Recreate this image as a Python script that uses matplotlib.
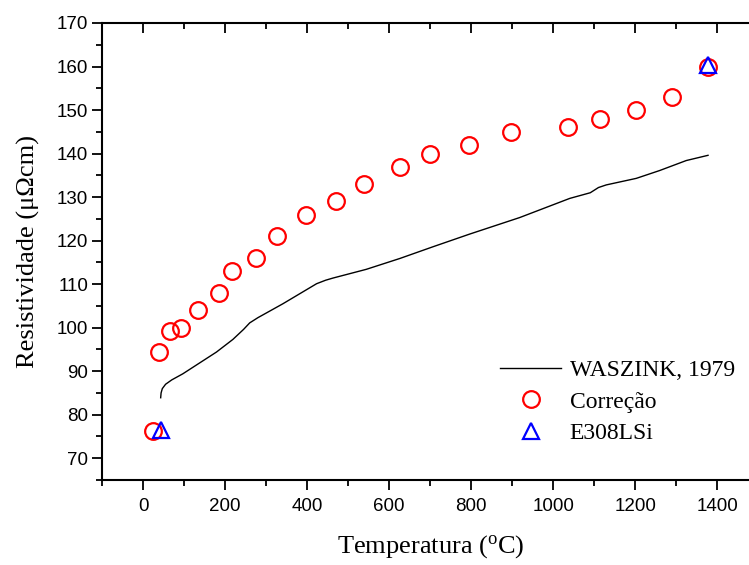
import matplotlib
matplotlib.use("Agg")
import matplotlib.pyplot as plt
from matplotlib.ticker import MultipleLocator

# WASZINK, 1979 curve
waszink_T = [43, 44, 47, 55, 70, 97, 138, 179, 219, 245, 260, 280, 301, 341, 382, 423, 445, 463,
             544, 626, 707, 796, 918, 1040, 1090, 1110, 1129, 1202, 1259, 1324, 1377]
waszink_R = [83.9, 85.0, 86.0, 87.0, 88.0, 89.4, 91.9, 94.4, 97.3, 99.6, 101.1, 102.3, 103.4, 105.5,
             107.8, 110.1, 110.9, 111.4, 113.4, 115.9, 118.6, 121.5, 125.3, 129.7, 131.0, 132.2,
             132.8, 134.3, 136.1, 138.4, 139.6]

# Correção points
corr_T = [24, 39, 65, 93, 133, 184, 218, 275, 327, 396, 470, 539, 627, 700, 794, 898,
          1035, 1113, 1202, 1290, 1376]
corr_R = [76.2, 94.4, 99.2, 100.0, 104.0, 108.0, 113.0, 116.0, 121.0, 126.0, 129.0, 133.0,
          137.0, 140.0, 142.0, 145.0, 146.0, 148.0, 150.0, 153.0, 160.0]

# E308LSi points
e308_T = [45, 1376]
e308_R = [76.6, 160.3]

xticks = [0, 200, 400, 600, 800, 1000, 1200, 1400]
yticks = [70, 80, 90, 100, 110, 120, 130, 140, 150, 160, 170]

plt.rcParams['mathtext.fontset'] = 'custom'
plt.rcParams['mathtext.rm'] = 'Liberation Serif'
plt.rcParams['mathtext.it'] = 'Liberation Serif:italic'

W, H = 749, 565
fig = plt.figure(figsize=(W / 100, H / 100), dpi=100)
left_px, right_px, top_px, bot_px = 102, 758.5, 23, 480
ax = fig.add_axes([left_px / W, (H - bot_px) / H, (right_px - left_px) / W, (bot_px - top_px) / H])

ax.plot(waszink_T, waszink_R, color='black', lw=1.0, label='WASZINK, 1979')
ax.plot(corr_T, corr_R, ls='none', marker='o', ms=12, mfc='none', mec='red', mew=1.6,
        label='Correção')
ax.plot(e308_T, e308_R, ls='none', marker='^', ms=12, mfc='none', mec='blue', mew=1.6,
        label='E308LSi')

ax.set_xlim(-100, 1500)
ax.set_ylim(65, 170)
ax.set_xticks(xticks)
ax.set_yticks(yticks)
ax.xaxis.set_minor_locator(MultipleLocator(100))
ax.yaxis.set_minor_locator(MultipleLocator(5))

for s in ax.spines.values():
    s.set_linewidth(1.5)

ax.tick_params(which='both', direction='out', width=1.3, labelsize=13.5, top=True, right=True)
ax.tick_params(which='major', length=7)
ax.tick_params(which='minor', length=4)
ax.tick_params(axis='x', which='major', pad=6)
ax.tick_params(axis='y', which='major', pad=3)
# inward ticks on top and right
for t in ax.xaxis.get_major_ticks() + ax.xaxis.get_minor_ticks():
    t.tick2line.set_marker(3)
for t in ax.yaxis.get_major_ticks() + ax.yaxis.get_minor_ticks():
    t.tick2line.set_marker(0)
for lab in ax.get_xticklabels() + ax.get_yticklabels():
    lab.set_fontfamily('Liberation Sans')

ax.set_xlabel('Temperatura ($^{\\rm o}$C)', fontfamily='Liberation Serif', fontsize=19, labelpad=13)
ax.set_ylabel('Resistividade (μΩcm)', fontfamily='Liberation Serif', fontsize=19, labelpad=12)

leg = ax.legend(loc='upper left', bbox_to_anchor=(0.592, 0.284), frameon=False,
                prop={'family': 'Liberation Serif', 'size': 17}, handlelength=2.6,
                handletextpad=0.35, labelspacing=0.42, borderaxespad=0)

fig.savefig('out.png', dpi=100)
